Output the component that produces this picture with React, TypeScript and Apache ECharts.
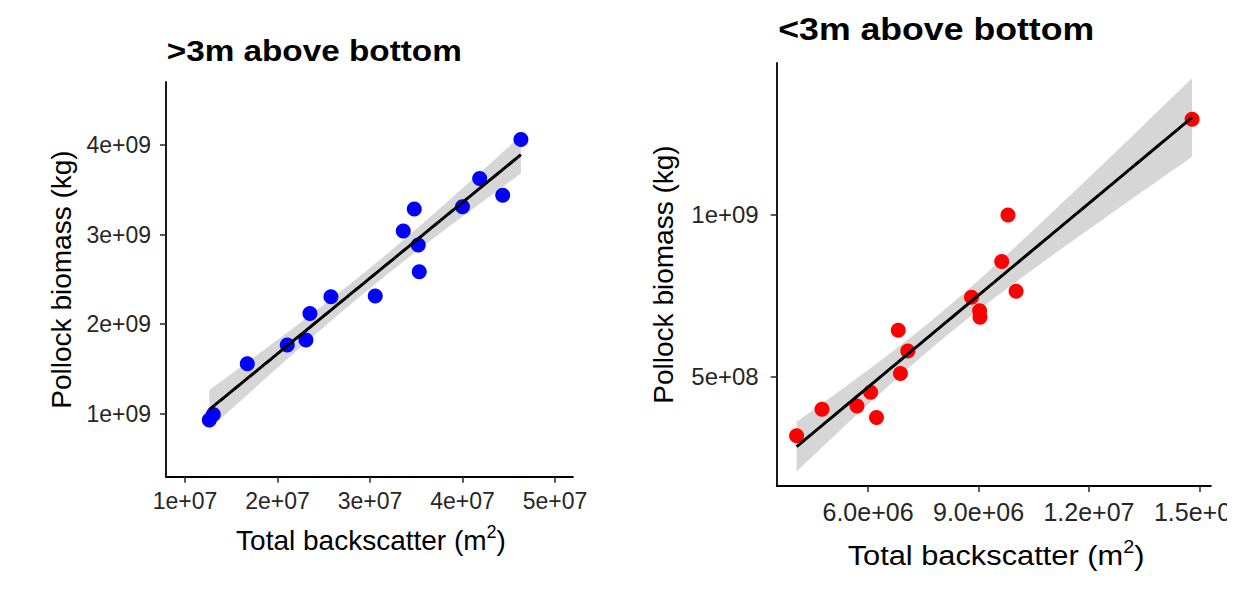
import React, { useEffect, useRef } from "react";
import * as echarts from "echarts";

// Panel A: schools more than 3 m above the bottom
const upperBackscatter = [
  1.263e7, 1.306e7, 1.674e7, 2.106e7, 2.308e7, 2.351e7, 2.578e7, 3.057e7,
  3.36e7, 3.479e7, 3.522e7, 3.533e7, 4.0e7, 4.186e7, 4.435e7, 4.632e7,
];
const upperBiomass = [
  0.93e9, 0.99e9, 1.558e9, 1.767e9, 1.822e9, 2.12e9, 2.306e9, 2.314e9,
  3.04e9, 3.285e9, 2.883e9, 2.585e9, 3.31e9, 3.627e9, 3.44e9, 4.062e9,
];

// Panel B: schools less than 3 m above the bottom
const lowerBackscatter = [
  4.06e6, 4.75e6, 5.7e6, 6.07e6, 6.23e6, 6.82e6, 6.88e6, 7.08e6, 8.81e6,
  9.03e6, 9.04e6, 9.63e6, 9.8e6, 10.02e6, 14.8e6,
];
const lowerBiomass = [
  3.18e8, 4.0e8, 4.1e8, 4.52e8, 3.74e8, 6.43e8, 5.1e8, 5.79e8, 7.45e8,
  7.03e8, 6.83e8, 8.55e8, 9.98e8, 7.63e8, 1.293e9,
];

// Tick positions and their printed labels
const upperXTicks = [1e7, 2e7, 3e7, 4e7, 5e7];
const upperXLabels = ["1e+07", "2e+07", "3e+07", "4e+07", "5e+07"];
const upperYTicks = [1e9, 2e9, 3e9, 4e9];
const upperYLabels = ["1e+09", "2e+09", "3e+09", "4e+09"];
const lowerXTicks = [6e6, 9e6, 1.2e7, 1.5e7];
const lowerXLabels = ["6.0e+06", "9.0e+06", "1.2e+07", "1.5e+07"];
const lowerYTicks = [5e8, 1e9];
const lowerYLabels = ["5e+08", "1e+09"];

const FONT = "'Liberation Sans', Arial, Helvetica, sans-serif";

// Student t 97.5% quantiles for the residual degrees of freedom used here
const T975: Record<number, number> = { 13: 2.1604, 14: 2.1448 };

function linearFit(xs: number[], ys: number[]) {
  const n = xs.length;
  const xbar = xs.reduce((a, b) => a + b, 0) / n;
  const ybar = ys.reduce((a, b) => a + b, 0) / n;
  let sxx = 0;
  let sxy = 0;
  for (let i = 0; i < n; i++) {
    sxx += (xs[i] - xbar) ** 2;
    sxy += (xs[i] - xbar) * (ys[i] - ybar);
  }
  const slope = sxy / sxx;
  const icpt = ybar - slope * xbar;
  let sse = 0;
  for (let i = 0; i < n; i++) sse += (ys[i] - icpt - slope * xs[i]) ** 2;
  const s = Math.sqrt(sse / (n - 2));
  const t = T975[n - 2] ?? 2.1;
  const x0 = Math.min(...xs);
  const x1 = Math.max(...xs);
  const steps = 80;
  const fit: number[][] = [];
  const upper: number[][] = [];
  const lower: number[][] = [];
  for (let i = 0; i <= steps; i++) {
    const x = x0 + ((x1 - x0) * i) / steps;
    const yhat = icpt + slope * x;
    const se = s * Math.sqrt(1 / n + (x - xbar) ** 2 / sxx);
    fit.push([x, yhat]);
    upper.push([x, yhat + t * se]);
    lower.push([x, yhat - t * se]);
  }
  return { fit, band: upper.concat(lower.reverse()) };
}

function pickLabel(ticks: number[], labels: string[]) {
  return (v: number) => {
    const i = ticks.findIndex((t) => Math.abs(t - v) <= Math.abs(t) * 1e-9);
    return i >= 0 ? labels[i] : "";
  };
}

function valueAxis(
  gridIndex: number,
  min: number,
  max: number,
  ticks: number[],
  labels: string[],
  fontSize: number,
  margin: number
) {
  return {
    type: "value",
    gridIndex,
    min,
    max,
    axisLine: { show: true, onZero: false, lineStyle: { color: "#000", width: 1.8 } },
    axisTick: {
      show: true,
      customValues: ticks,
      length: 6,
      lineStyle: { color: "#333", width: 1.6 },
    },
    axisLabel: {
      customValues: ticks,
      formatter: pickLabel(ticks, labels),
      fontSize,
      color: "#262626",
      fontFamily: FONT,
      margin,
    },
    splitLine: { show: false },
  };
}

function bandSeries(band: number[][], xAxisIndex: number, yAxisIndex: number) {
  return {
    type: "custom",
    xAxisIndex,
    yAxisIndex,
    silent: true,
    data: [[0]],
    renderItem: (_params: any, api: any) => ({
      type: "polygon",
      shape: { points: band.map((p) => api.coord(p)) },
      style: { fill: "rgba(153,153,153,0.4)", stroke: "none" },
    }),
  };
}

export default function App() {
  const ref = useRef<HTMLDivElement>(null);

  useEffect(() => {
    if (!ref.current) return;
    const chart = echarts.init(ref.current, undefined, { renderer: "svg" });

    const upperFit = linearFit(upperBackscatter, upperBiomass);
    const lowerFit = linearFit(lowerBackscatter, lowerBiomass);

    const xTitle = (x: number, y: number, size: number, scaleX: number) => ({
      type: "text",
      x,
      y,
      scaleX,
      style: {
        text: "{n|Total backscatter (m}{s|2}{n|)}",
        align: "center",
        verticalAlign: "middle",
        textAlign: "center",
        textVerticalAlign: "middle",
        rich: {
          n: { fontSize: size, fontFamily: FONT, fill: "#000", lineHeight: 34 },
          s: {
            fontSize: Math.round(size * 0.66),
            fontFamily: FONT,
            fill: "#000",
            lineHeight: 24,
            verticalAlign: "top",
          },
        },
      },
    });

    const yTitle = (x: number, y: number, size: number) => ({
      type: "text",
      x,
      y,
      rotation: Math.PI / 2,
      style: {
        text: "Pollock biomass (kg)",
        fontSize: size,
        fontFamily: FONT,
        fill: "#000",
        align: "center",
        verticalAlign: "middle",
        textAlign: "center",
        textVerticalAlign: "middle",
      },
    });

    const panelTitle = (
      text: string,
      x: number,
      y: number,
      size: number,
      scaleX: number
    ) => ({
      type: "text",
      x,
      y,
      scaleX,
      style: {
        text,
        fontSize: size,
        fontWeight: "bold",
        fontFamily: FONT,
        fill: "#000",
        align: "left",
        verticalAlign: "middle",
        textAlign: "left",
        textVerticalAlign: "middle",
      },
    });

    chart.setOption({
      animation: false,
      backgroundColor: "#fff",
      grid: [
        { left: 166, top: 82, width: 407, height: 394.7 },
        { left: 776.7, top: 63, width: 435.5, height: 423 },
      ],
      xAxis: [
        valueAxis(0, 0.795e7, 5.195e7, upperXTicks, upperXLabels, 23, 13),
        valueAxis(1, 3.52e6, 1.531e7, lowerXTicks, lowerXLabels, 25, 13),
      ],
      yAxis: [
        valueAxis(0, 0.297e9, 4.703e9, upperYTicks, upperYLabels, 23, 15),
        valueAxis(1, 1.634e8, 1.466e9, lowerYTicks, lowerYLabels, 24, 18),
      ],
      series: [
        {
          type: "scatter",
          xAxisIndex: 0,
          yAxisIndex: 0,
          symbolSize: 15,
          itemStyle: { color: "#0000ff", opacity: 1 },
          data: upperBackscatter.map((x, i) => [x, upperBiomass[i]]),
        },
        bandSeries(upperFit.band, 0, 0),
        {
          type: "line",
          xAxisIndex: 0,
          yAxisIndex: 0,
          showSymbol: false,
          symbol: "none",
          lineStyle: { color: "#000", width: 3 },
          data: upperFit.fit,
        },
        {
          type: "scatter",
          xAxisIndex: 1,
          yAxisIndex: 1,
          symbolSize: 15,
          itemStyle: { color: "#ff0000", opacity: 1 },
          data: lowerBackscatter.map((x, i) => [x, lowerBiomass[i]]),
        },
        bandSeries(lowerFit.band, 1, 1),
        {
          type: "line",
          xAxisIndex: 1,
          yAxisIndex: 1,
          showSymbol: false,
          symbol: "none",
          lineStyle: { color: "#000", width: 3 },
          data: lowerFit.fit,
        },
      ],
      graphic: [
        panelTitle(">3m above bottom", 166.7, 51, 30, 1.11),
        panelTitle("<3m above bottom", 778.3, 29, 31, 1.15),
        xTitle(371, 540, 28, 1.0),
        xTitle(996, 555, 28, 1.1),
        yTitle(61, 279.5, 28),
        yTitle(663, 274.5, 28),
        {
          type: "rect",
          z: 100,
          shape: { x: 1227, y: 0, width: 21, height: 596 },
          style: { fill: "#fff" },
        },
      ],
    });

    return () => chart.dispose();
  }, []);

  return (
    <div
      ref={ref}
      style={{ position: "absolute", left: 0, top: 0, width: 1248, height: 596 }}
    />
  );
}
